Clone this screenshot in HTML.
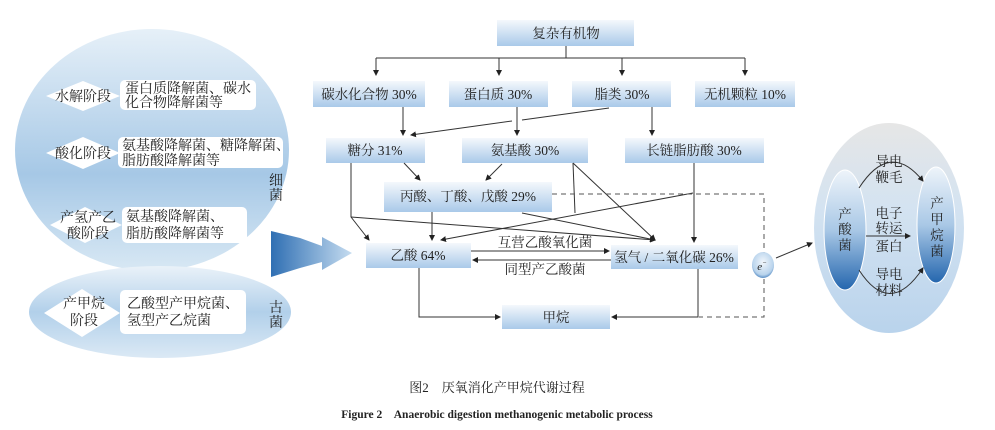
<!DOCTYPE html>
<html><head><meta charset="utf-8"><style>
body{margin:0;width:995px;height:425px;background:#fff;overflow:hidden;font-family:"Liberation Serif","Noto Serif CJK SC",serif}
</style></head><body>
<svg width="995" height="425" viewBox="0 0 995 425" xmlns="http://www.w3.org/2000/svg" font-family="Liberation Serif, Noto Serif CJK SC, serif">
<defs>
<linearGradient id="bx" x1="0" y1="0" x2="0" y2="1"><stop offset="0" stop-color="#f4f8fc"/><stop offset="1" stop-color="#a9c9e9"/></linearGradient>
<linearGradient id="big" x1="0" y1="0" x2="0" y2="1"><stop offset="0" stop-color="#e6f0f8"/><stop offset="0.6" stop-color="#a6c8e6"/><stop offset="1" stop-color="#d8e8f4"/></linearGradient>
<linearGradient id="low" x1="0" y1="0" x2="0" y2="1"><stop offset="0" stop-color="#eaf2f9"/><stop offset="0.5" stop-color="#b2d0ea"/><stop offset="1" stop-color="#dbe9f5"/></linearGradient>
<linearGradient id="arr" x1="0" y1="0" x2="1" y2="0"><stop offset="0" stop-color="#2f6fb3"/><stop offset="1" stop-color="#c5dcf0"/></linearGradient>
<linearGradient id="oval" x1="0" y1="0" x2="0" y2="1"><stop offset="0" stop-color="#e6e6e6"/><stop offset="0.4" stop-color="#d4e3f1"/><stop offset="1" stop-color="#b9d3ec"/></linearGradient>
<linearGradient id="cell" x1="0" y1="0" x2="0" y2="1"><stop offset="0" stop-color="#eef4fa"/><stop offset="0.5" stop-color="#a9c8e6"/><stop offset="1" stop-color="#2466ae"/></linearGradient>
<radialGradient id="el" cx="0.5" cy="0.4" r="0.6"><stop offset="0" stop-color="#f2f7fc"/><stop offset="0.8" stop-color="#b8d3ec"/><stop offset="1" stop-color="#5b8fc6"/></radialGradient>
<marker id="a" markerWidth="6" markerHeight="6" refX="5" refY="3" orient="auto" markerUnits="userSpaceOnUse"><path d="M0,0 L6,3 L0,6 z" fill="#222"/></marker>
</defs>

<ellipse cx="152" cy="150" rx="137" ry="121" fill="url(#big)"/>
<ellipse cx="160" cy="312" rx="131" ry="46" fill="url(#low)"/>
<g font-size="14" fill="#222">
<polygon points="46,96 83,81 120,96 83,111" fill="#fff"/>
<text x="83" y="101" text-anchor="middle">水解阶段</text>
<rect x="120" y="80" width="136" height="30" rx="5" fill="#fff"/>
<text x="125" y="93">蛋白质降解菌、碳水</text><text x="125" y="107">化合物降解菌等</text>
<polygon points="46,153 83,137 120,153 83,169" fill="#fff"/>
<text x="83" y="158" text-anchor="middle">酸化阶段</text>
<rect x="118" y="137" width="165" height="31" rx="5" fill="#fff"/>
<text x="122" y="150">氨基酸降解菌、糖降解菌、</text><text x="122" y="165">脂肪酸降解菌等</text>
<polygon points="50,225 85,207 122,225 85,243" fill="#fff"/>
<text x="88" y="222" text-anchor="middle">产氢产乙</text><text x="88" y="238" text-anchor="middle">酸阶段</text>
<rect x="122" y="207" width="125" height="36" rx="5" fill="#fff"/>
<text x="126" y="221">氨基酸降解菌、</text><text x="126" y="238">脂肪酸降解菌等</text>
<polygon points="44,313 82,289 120,313 82,337" fill="#fff"/>
<text x="84" y="308" text-anchor="middle">产甲烷</text><text x="84" y="325" text-anchor="middle">阶段</text>
<rect x="120" y="290" width="126" height="44" rx="5" fill="#fff"/>
<text x="127" y="308">乙酸型产甲烷菌、</text><text x="127" y="325">氢型产乙烷菌</text>
<text x="276" y="185" text-anchor="middle">细</text><text x="276" y="200" text-anchor="middle">菌</text>
<text x="276" y="312" text-anchor="middle">古</text><text x="276" y="327" text-anchor="middle">菌</text>
</g>
<polygon points="271,231 300,238 322,246 322,237 352,253 322,270 322,262 300,268 271,277" fill="url(#arr)"/>

<g fill="url(#bx)">
<rect x="497" y="20" width="137" height="26"/>
<rect x="313" y="81" width="112" height="26"/>
<rect x="449" y="81" width="99" height="26"/>
<rect x="572" y="81" width="99" height="26"/>
<rect x="695" y="81" width="100" height="26"/>
<rect x="326" y="138" width="99" height="25"/>
<rect x="462" y="138" width="126" height="25"/>
<rect x="625" y="138" width="139" height="25"/>
<rect x="384" y="182" width="168" height="30"/>
<rect x="366" y="243" width="105" height="25"/>
<rect x="611" y="245" width="127" height="24"/>
<rect x="502" y="305" width="108" height="24"/>
</g>
<g font-size="13.5" fill="#222" text-anchor="middle">
<text x="566" y="38">复杂有机物</text>
<text x="369" y="99">碳水化合物 30%</text>
<text x="498" y="99">蛋白质 30%</text>
<text x="622" y="99">脂类 30%</text>
<text x="745" y="99">无机颗粒 10%</text>
<text x="375" y="155">糖分 31%</text>
<text x="525" y="155">氨基酸 30%</text>
<text x="694" y="155">长链脂肪酸 30%</text>
<text x="468" y="201">丙酸、丁酸、戊酸 29%</text>
<text x="418" y="260">乙酸 64%</text>
<text x="674" y="262">氢气 / 二氧化碳 26%</text>
<text x="556" y="322">甲烷</text>
<text x="545" y="247">互营乙酸氧化菌</text>
<text x="545" y="274">同型产乙酸菌</text>
</g>

<g stroke="#333" stroke-width="1" fill="none">
<path d="M566,46 V58 M376,58 H745"/>
<path d="M376,58 V75" marker-end="url(#a)"/>
<path d="M499,58 V75" marker-end="url(#a)"/>
<path d="M622,58 V75" marker-end="url(#a)"/>
<path d="M745,58 V75" marker-end="url(#a)"/>
<path d="M403,107 V135" marker-end="url(#a)"/>
<path d="M517,107 V135" marker-end="url(#a)"/>
<path d="M652,107 V135" marker-end="url(#a)"/>
<path d="M609,108 L522,120 M512,121 L411,135" marker-end="url(#a)"/>
<path d="M404,163 L420,180" marker-end="url(#a)"/>
<path d="M502,164 L486,180" marker-end="url(#a)"/>
<path d="M351,163 V217 L369,240" marker-end="url(#a)"/>
<path d="M351,217 L655,240" marker-end="url(#a)"/>
<path d="M432,212 V240" marker-end="url(#a)"/>
<path d="M522,213 L655,240" marker-end="url(#a)"/>
<path d="M573,163 L655,240" marker-end="url(#a)"/>
<path d="M573,163 L575,213"/>
<path d="M693,193 L441,240" marker-end="url(#a)"/>
<path d="M694,163 V242" marker-end="url(#a)"/>
<path d="M471,251 H609" marker-end="url(#a)"/>
<path d="M611,260 H473" marker-end="url(#a)"/>
<path d="M419,268 V317 H500" marker-end="url(#a)"/>
<path d="M698,269 V317 H612" marker-end="url(#a)"/>
<path d="M552,194 H764 V317 H699" stroke-dasharray="5,4" stroke="#555"/>
<path d="M776,258 L812,243" marker-end="url(#a)"/>
</g>
<ellipse cx="763" cy="265" rx="11" ry="13" fill="url(#el)"/>
<text x="762" y="270" font-size="11" font-style="italic" text-anchor="middle" fill="#222">e<tspan font-size="7" dy="-5">−</tspan></text>

<ellipse cx="889" cy="228" rx="75" ry="105" fill="url(#oval)"/>
<ellipse cx="845" cy="230" rx="21" ry="60" fill="url(#cell)" stroke="#fff" stroke-width="1"/>
<ellipse cx="936" cy="225" rx="19" ry="58" fill="url(#cell)" stroke="#fff" stroke-width="1"/>
<g stroke="#333" fill="none">
<path d="M859,188 Q890,140 923,181" marker-end="url(#a)"/>
<path d="M866,236 H910" marker-end="url(#a)"/>
<path d="M859,270 Q890,318 923,268" marker-end="url(#a)"/>
</g>
<g font-size="13.5" fill="#222" text-anchor="middle">
<text x="889" y="166">导电</text><text x="889" y="182">鞭毛</text>
<text x="889" y="218">电子</text><text x="889" y="233">转运</text><text x="889" y="251">蛋白</text>
<text x="889" y="279">导电</text><text x="889" y="295">材料</text>
<text x="845" y="219">产</text><text x="845" y="234">酸</text><text x="845" y="250">菌</text>
<text x="937" y="208">产</text><text x="937" y="224">甲</text><text x="937" y="240">烷</text><text x="937" y="256">菌</text>
</g>

<text x="497" y="392" font-size="13" text-anchor="middle" fill="#222">图2　厌氧消化产甲烷代谢过程</text>
<text x="497" y="418" font-size="11.5" font-weight="bold" text-anchor="middle" fill="#222">Figure 2　Anaerobic digestion methanogenic metabolic process</text>
</svg>
</body></html>
